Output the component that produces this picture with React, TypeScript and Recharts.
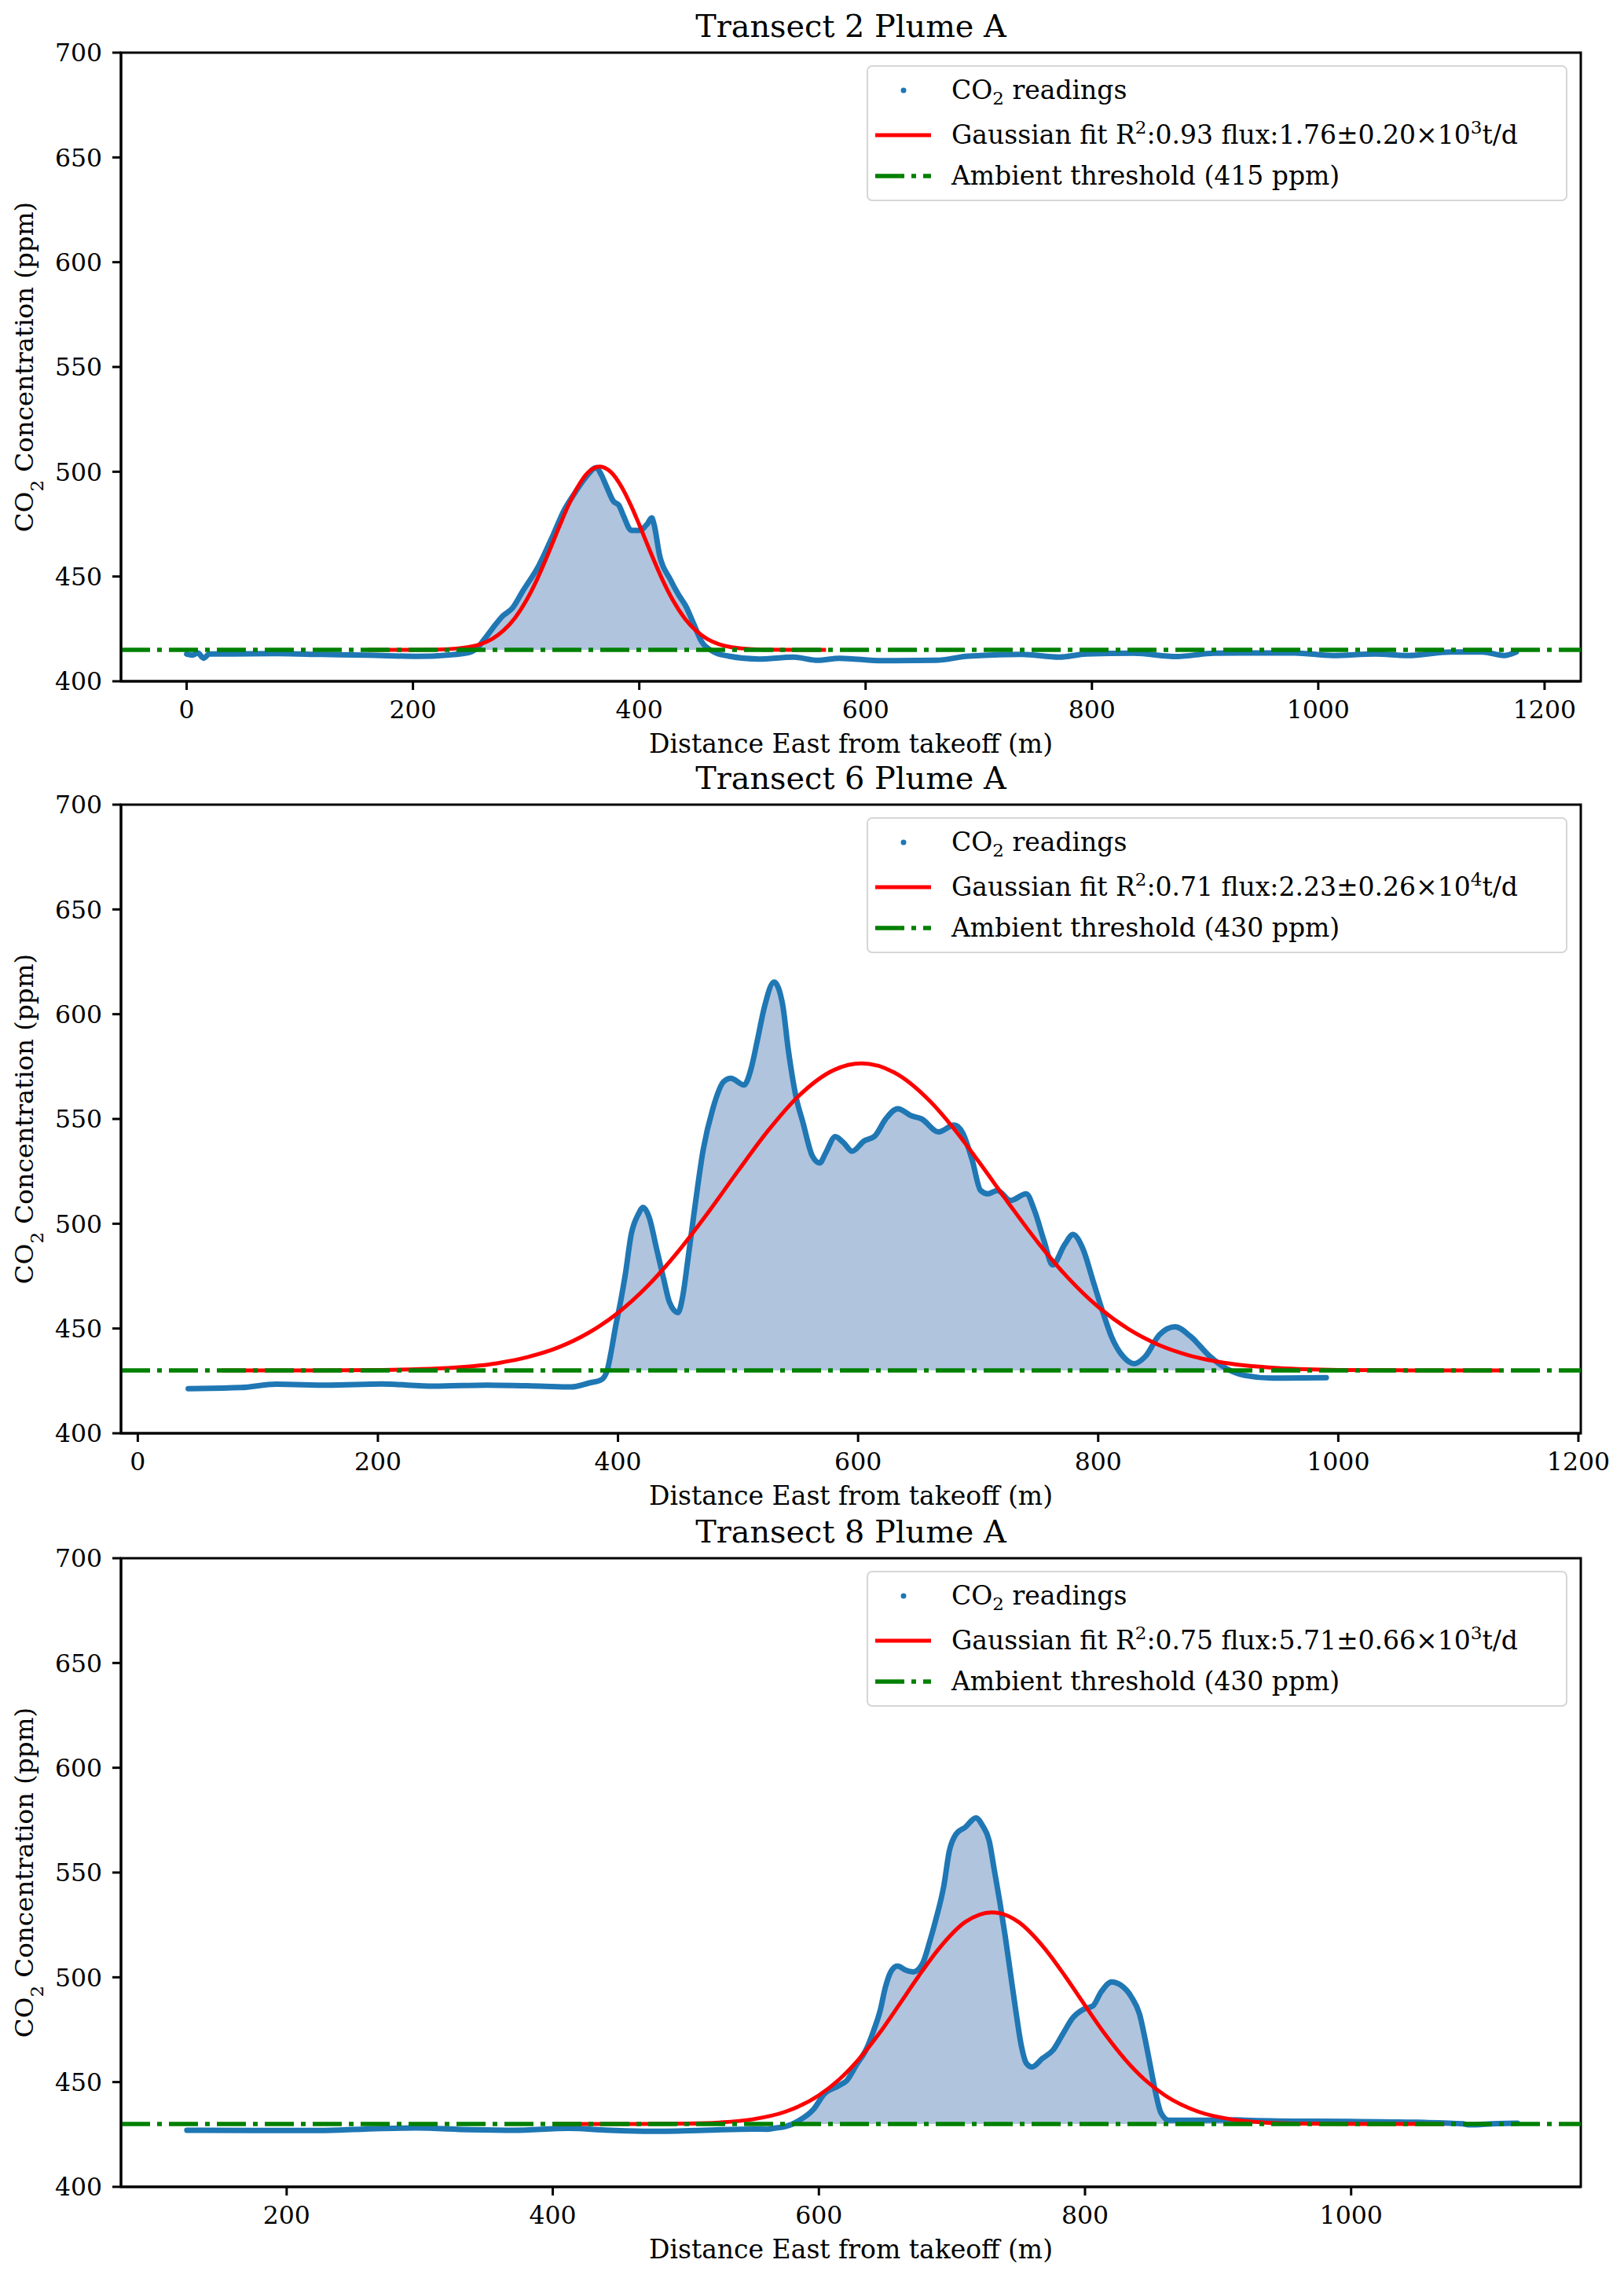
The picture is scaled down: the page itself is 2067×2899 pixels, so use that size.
import { ComposedChart, Line, Area, XAxis, YAxis, ReferenceLine, ReferenceArea } from 'recharts'

const FONT = '"DejaVu Serif", "Liberation Serif", serif'

// --- Transect 2 Plume A ---
const t2X = [0, 5, 10, 15, 20, 40, 80, 120, 160, 204, 230, 249, 257, 263, 270, 279, 288, 297, 311, 324, 333, 342, 353, 362, 366, 371, 377, 382, 386, 393, 400, 407, 411, 413, 418, 427, 435, 441, 448, 455, 466, 479, 506, 536, 558, 577, 615, 662, 691, 738, 771, 795, 837, 875, 908, 979, 1013, 1050, 1079, 1117, 1145, 1164, 1175]
const t2Y = [413, 412.5, 413.5, 411, 413, 413, 413.2, 412.8, 412.5, 411.9, 412.5, 413.7, 416, 420, 425, 431, 435, 443, 455, 470, 481, 489, 497.5, 502, 499, 493, 486, 484, 479, 472, 472, 475, 478, 475, 460, 449, 441, 436, 427.5, 419, 414, 412, 410.6, 411.5, 410, 411, 409.8, 410, 412, 412.8, 411.5, 413, 413.4, 411.8, 413.4, 413.5, 412.3, 413, 412.3, 414, 414, 412.3, 414]
const t2FitX = [160, 200, 220, 240, 250, 260, 270, 280, 290, 300, 310, 320, 330, 337, 345, 355, 365, 375, 385, 393, 400, 410, 420, 430, 440, 450, 460, 470, 480, 490, 510, 540, 565]
const t2FitY = [415, 415, 415.1, 415.7, 416.4, 417.8, 420.2, 424.2, 430.1, 438.4, 449, 461.5, 474.7, 483.5, 492.2, 499.8, 502.5, 499.8, 492.2, 483.5, 474.7, 461.5, 449, 438.4, 430.1, 424.2, 420.2, 417.8, 416.4, 415.7, 415.1, 415, 415]
const t2Threshold = 415
const t2Ticks = [0, 200, 400, 600, 800, 1000, 1200]

// --- Transect 6 Plume A ---
const t6X = [42, 86, 115, 159, 203, 247, 291, 335, 361, 376, 386, 391, 394, 398, 402, 406, 411, 417, 421, 426, 432, 438, 443, 450, 454, 458, 464, 471, 479, 488, 494, 505, 511, 516, 522, 530, 537, 542, 548, 554, 562, 568, 573, 581, 588, 595, 605, 614, 623, 633, 644, 653, 667, 680, 687, 695, 702, 708, 716, 727, 740, 747, 755, 762, 772, 779, 787, 796, 804, 811, 821, 830, 839, 851, 864, 877, 892, 907, 914, 922, 945, 990]
const t6Y = [421.3, 421.8, 423.4, 423, 423.5, 422.5, 423, 422.5, 422.1, 424, 425.5, 430, 438, 451, 462.4, 475.4, 494.9, 504.6, 507.8, 503, 488.4, 473.8, 462.4, 457.6, 465.7, 481.9, 507.8, 535.4, 554.9, 567.8, 569.4, 566.2, 574.3, 587.3, 603.5, 615.3, 605, 582.4, 561.3, 548.4, 532.2, 529, 533.8, 541.6, 538.6, 534.6, 539.5, 541.9, 550, 554.9, 551.6, 550, 543.8, 547.1, 543.5, 530.5, 515.9, 514.3, 515.9, 511.1, 514.3, 506.2, 491.6, 480.3, 490, 494.9, 488.4, 472.2, 457.6, 446.2, 436.5, 433.2, 436.5, 447, 450.8, 446.2, 437.3, 430.8, 429, 427.6, 426.3, 426.5]
const t6FitX = [70, 150, 200, 250, 300, 325, 350, 375, 400, 425, 450, 475, 500, 525, 550, 580, 603, 630, 660, 680, 700, 725, 750, 775, 800, 825, 850, 875, 900, 950, 1000, 1050, 1135]
const t6FitY = [430, 430, 430.2, 430.9, 433.5, 436.4, 440.9, 447.8, 457.5, 470.5, 486.7, 505.3, 525.2, 544.4, 560.7, 573.4, 576.5, 572.2, 558.4, 545.2, 530, 510.1, 490.9, 474.1, 460.3, 449.8, 442.3, 437.3, 434.1, 431.1, 430.2, 430.05, 430]
const t6Threshold = 430
const t6Ticks = [0, 200, 400, 600, 800, 1000, 1200]

// --- Transect 8 Plume A ---
const t8X = [125, 175, 225, 259, 297, 337, 371, 412, 443, 473, 514, 551, 561, 567, 575, 585, 596, 604, 615, 621, 628, 636, 641, 646, 650, 654, 659, 665, 671, 678, 683, 688, 694, 698, 703, 710, 718, 723, 728, 732, 736, 740, 744, 748, 752, 756, 760, 768, 776, 783, 791, 799, 806, 812, 820, 827, 835, 841, 845, 849, 853, 857, 863, 881, 913, 921, 965, 999, 1050, 1084, 1088, 1110, 1125]
const t8Y = [427, 426.9, 426.9, 427.6, 428.1, 427.3, 427, 427.9, 427, 426.5, 427, 427.6, 427.5, 428, 428.8, 431.6, 437, 444.3, 448.3, 450.8, 458, 466.2, 474.3, 484, 495.3, 502.6, 505.4, 503.5, 502.6, 506.7, 516.4, 527.8, 544, 560.2, 568.3, 571.6, 576.1, 572.4, 565.1, 550.5, 535.9, 519.7, 501.8, 484, 467.8, 458.9, 457.2, 461.3, 465.3, 472.6, 480.8, 484.8, 486.4, 492.9, 497.8, 496.2, 490.5, 482.4, 471, 458, 445.1, 435.4, 431.8, 431.8, 432, 431.8, 431.3, 431.2, 430.8, 430.1, 429.6, 430.2, 430.4]
const t8FitX = [400, 450, 500, 525, 550, 575, 600, 615, 630, 645, 660, 675, 690, 710, 730, 750, 770, 785, 800, 815, 830, 845, 860, 885, 910, 935, 960, 1010, 1070]
const t8FitY = [430, 430, 430.2, 430.7, 432.2, 435.9, 443.7, 451.1, 460.9, 472.9, 486.6, 500.6, 513.5, 526.4, 531, 526.4, 513.5, 500.6, 486.6, 472.9, 460.9, 451.1, 443.7, 435.9, 432.2, 430.7, 430.2, 430, 430]
const t8Threshold = 430
const t8Ticks = [200, 400, 600, 800, 1000]

const yTicks = [400, 450, 500, 550, 600, 650, 700]

function buildRows(xs: number[], ys: number[], fx: number[], fy: number[], thr: number) {
  const rows: any[] = []
  xs.forEach((x, i) => rows.push({ x, co2: ys[i], fill: Math.max(ys[i], thr) }))
  fx.forEach((x, i) => rows.push({ x, fit: fy[i] }))
  return rows.sort((a, b) => a.x - b.x)
}

const panels = [
  {
    title: 'Transect 2 Plume A', top: 67, xDomain: [-58, 1232], xTicks: t2Ticks, thr: t2Threshold,
    rows: buildRows(t2X, t2Y, t2FitX, t2FitY, t2Threshold),
    r2: '0.93', flux: '1.76±0.20×10', exp: '3',
  },
  {
    title: 'Transect 6 Plume A', top: 1024, xDomain: [-14, 1202], xTicks: t6Ticks, thr: t6Threshold,
    rows: buildRows(t6X, t6Y, t6FitX, t6FitY, t6Threshold),
    r2: '0.71', flux: '2.23±0.26×10', exp: '4',
  },
  {
    title: 'Transect 8 Plume A', top: 1983, xDomain: [75.5, 1172.6], xTicks: t8Ticks, thr: t8Threshold,
    rows: buildRows(t8X, t8Y, t8FitX, t8FitY, t8Threshold),
    r2: '0.75', flux: '5.71±0.66×10', exp: '3',
  },
]

const tickStyle = { fill: '#000', fontSize: 31.5, fontFamily: FONT }
const lineStyle = { stroke: '#000', strokeWidth: 3 }

const yLabel = () => (
  <text x={42} y={467} transform="rotate(-90 42 467)" textAnchor="middle" fontSize={32.5} fontFamily={FONT} fill="#000">
    CO<tspan baselineShift="sub" fontSize={23}>2</tspan><tspan> Concentration (ppm)</tspan>
  </text>
)

const xLabel = () => (
  <text x={1083} y={958} textAnchor="middle" fontSize={33} fontFamily={FONT} fill="#000">
    Distance East from takeoff (m)
  </text>
)

function LegendBox({ p }: { p: any }) {
  const row = (top: number, icon: any, label: any) => (
    <div style={{ position: 'absolute', left: 0, top: top - 22, height: 44, width: '100%' }}>
      <svg width={90} height={44} style={{ position: 'absolute', left: 0, top: 0 }}>{icon}</svg>
      <div style={{ position: 'absolute', left: 106, top: 0, lineHeight: '44px', whiteSpace: 'nowrap' }}>{label}</div>
    </div>
  )
  const sup = (t: string) => <span style={{ fontSize: 23, position: 'relative', top: -13 }}>{t}</span>
  const sub = (t: string) => <span style={{ fontSize: 23, position: 'relative', top: 7 }}>{t}</span>
  return (
    <div style={{ position: 'absolute', left: 1103, top: 83, width: 892, height: 173, boxSizing: 'border-box', border: '2.5px solid #d6d6d6', borderRadius: 7, background: 'rgba(255,255,255,0.85)', fontFamily: FONT, fontSize: 33, color: '#000' }}>
      {row(30, <circle cx={45} cy={22} r={3.5} fill="#1f77b4" />, <span>CO{sub('2')} readings</span>)}
      {row(86.5, <line x1={9} x2={80} y1={22} y2={22} stroke="#ff0000" strokeWidth={5} />, <span>Gaussian fit R{sup('2')}:{p.r2} flux:{p.flux}{sup(p.exp)}t/d</span>)}
      {row(138.5, <line x1={9} x2={80} y1={22} y2={22} stroke="#008000" strokeWidth={5.5} strokeDasharray="37 9 6 9" />, <span>Ambient threshold ({p.thr} ppm)</span>)}
    </div>
  )
}

function Panel({ p }: { p: any }) {
  return (
    <div style={{ position: 'absolute', left: 0, top: p.top - 67, width: 2067, height: 1000 }}>
      <ComposedChart width={2067} height={1000} data={p.rows} margin={{ top: 67, right: 55, bottom: 43, left: 0 }}>
        <XAxis type="number" dataKey="x" domain={p.xDomain} ticks={p.xTicks} interval={0} allowDataOverflow height={90}
          tick={tickStyle} tickLine={lineStyle} axisLine={lineStyle} tickSize={11} tickMargin={14} label={{ content: xLabel }} />
        <YAxis type="number" domain={[400, 700]} ticks={yTicks} interval={0} allowDataOverflow width={154}
          tick={tickStyle} tickLine={lineStyle} axisLine={lineStyle} tickSize={11} tickMargin={13} label={{ content: yLabel }} />
        <Area type="monotone" dataKey="fill" baseValue={p.thr} fill="#b0c4de" fillOpacity={1} stroke="none" connectNulls isAnimationActive={false} />
        <Line type="monotone" dataKey="co2" stroke="#1f77b4" strokeWidth={7} strokeLinejoin="round" strokeLinecap="round" dot={false} connectNulls isAnimationActive={false} />
        <Line type="monotone" dataKey="fit" stroke="#ff0000" strokeWidth={5} dot={false} connectNulls isAnimationActive={false} />
        <ReferenceLine y={p.thr} stroke="#008000" strokeWidth={5.5} strokeDasharray="37 9 6 9" />
        <ReferenceArea x1={p.xDomain[0]} x2={p.xDomain[1]} y1={400} y2={700} fill="none" stroke="#000" strokeWidth={3}
          label={{ value: p.title, position: 'top', offset: 20, fontSize: 39.8, fontFamily: FONT, fill: '#000' }} />
      </ComposedChart>
      <LegendBox p={p} />
    </div>
  )
}

export default function App() {
  return (
    <div style={{ position: 'absolute', left: 0, top: 0, width: 2067, height: 2899, background: '#fff', overflow: 'hidden' }}>
      {panels.map(p => <Panel key={p.title} p={p} />)}
    </div>
  )
}
